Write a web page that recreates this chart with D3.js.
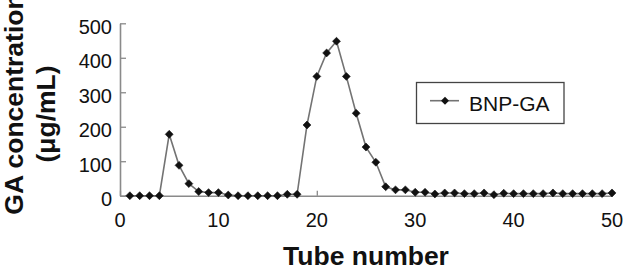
<!DOCTYPE html>
<html><head><meta charset="utf-8">
<script src="https://cdn.jsdelivr.net/npm/d3@7"></script>
<style>body{margin:0;background:#fff}svg{display:block}text{font-family:"Liberation Sans",Arial,sans-serif;fill:#111}</style>
</head><body><svg id="c" width="624" height="269"></svg>
<script>
const tubes = d3.range(1, 51);
const bnpGA = [0,0,0,0,178,88,35,12,9,9,2,0,0,0,0,0,4,4,205,346,
  414,448,346,239,141,97,26,17,17,10,10,5,8,8,6,6,8,3,7,6,
  6,6,6,8,6,6,6,6,6,8];
const xTicks = [0,10,20,30,40,50];
const yTicks = [0,100,200,300,400,500];
const seriesName = "BNP-GA";
const xTitle = "Tube number";
const yTitle1 = "GA concentration";
const yTitle2 = "(μg/mL)";

const svg = d3.select("#c");
const x = d3.scaleLinear().domain([0,50]).range([120,612]);
const y = d3.scaleLinear().domain([0,500]).range([195.7,23.3]);
const axisCol = "#8a8a8a";

const gx = svg.append("g").attr("transform", `translate(0,${y(0)})`)
  .call(d3.axisBottom(x).tickValues(xTicks).tickSize(-5).tickSizeOuter(0).tickPadding(0).tickFormat(""));
const gy = svg.append("g").attr("transform", `translate(${x(0)},0)`)
  .call(d3.axisLeft(y).tickValues(yTicks).tickSize(-6).tickSizeOuter(0).tickFormat(""));
[gx, gy].forEach(g => {
  g.select(".domain").attr("stroke", axisCol).attr("stroke-width", 1.6);
  g.selectAll(".tick line").attr("stroke", axisCol).attr("stroke-width", 1.3);
});

svg.append("g").selectAll("text").data(xTicks).join("text")
  .attr("x", d => x(d)).attr("y", y(0) + 31).attr("text-anchor", "middle")
  .attr("font-size", 20).text(d => d);
svg.append("g").selectAll("text").data(yTicks).join("text")
  .attr("x", 112).attr("y", d => y(d) + 10.5).attr("text-anchor", "end")
  .attr("font-size", 20).text(d => d);

const pts = tubes.map((t, i) => [t, bnpGA[i]]);
svg.append("path").datum(pts)
  .attr("d", d3.line().x(d => x(d[0])).y(d => y(d[1])))
  .attr("fill", "none").attr("stroke", "#737373").attr("stroke-width", 1.6);
const sym = d3.symbol().type(d3.symbolDiamond2).size(40);
svg.append("g").selectAll("path").data(pts).join("path")
  .attr("transform", d => `translate(${x(d[0])},${y(d[1])})`)
  .attr("d", sym).attr("fill", "#111").attr("stroke", "#111").attr("stroke-width", 0.6).attr("stroke-linejoin", "round");

const lg = svg.append("g");
lg.append("rect").attr("x", 416.5).attr("y", 82.5).attr("width", 147.5).attr("height", 41)
  .attr("fill", "#fff").attr("stroke", "#444").attr("stroke-width", 1.3);
lg.append("line").attr("x1", 430).attr("x2", 459).attr("y1", 100.7).attr("y2", 100.7)
  .attr("stroke", "#737373").attr("stroke-width", 1.6);
lg.append("path").attr("transform", "translate(445,100.7)").attr("d", sym).attr("fill", "#111");
lg.append("text").attr("x", 469).attr("y", 111).attr("font-size", 21).text(seriesName);

svg.append("text").attr("x", 366).attr("y", 265).attr("text-anchor", "middle")
  .attr("font-size", 26.5).attr("font-weight", "bold").text(xTitle);
svg.append("text").attr("transform", "translate(22.5,104) rotate(-90)").attr("text-anchor", "middle")
  .attr("font-size", 26.5).attr("font-weight", "bold").text(yTitle1);
svg.append("text").attr("transform", "translate(54.5,114) rotate(-90)").attr("text-anchor", "middle")
  .attr("font-size", 26.5).attr("font-weight", "bold").text(yTitle2);
</script></body></html>
